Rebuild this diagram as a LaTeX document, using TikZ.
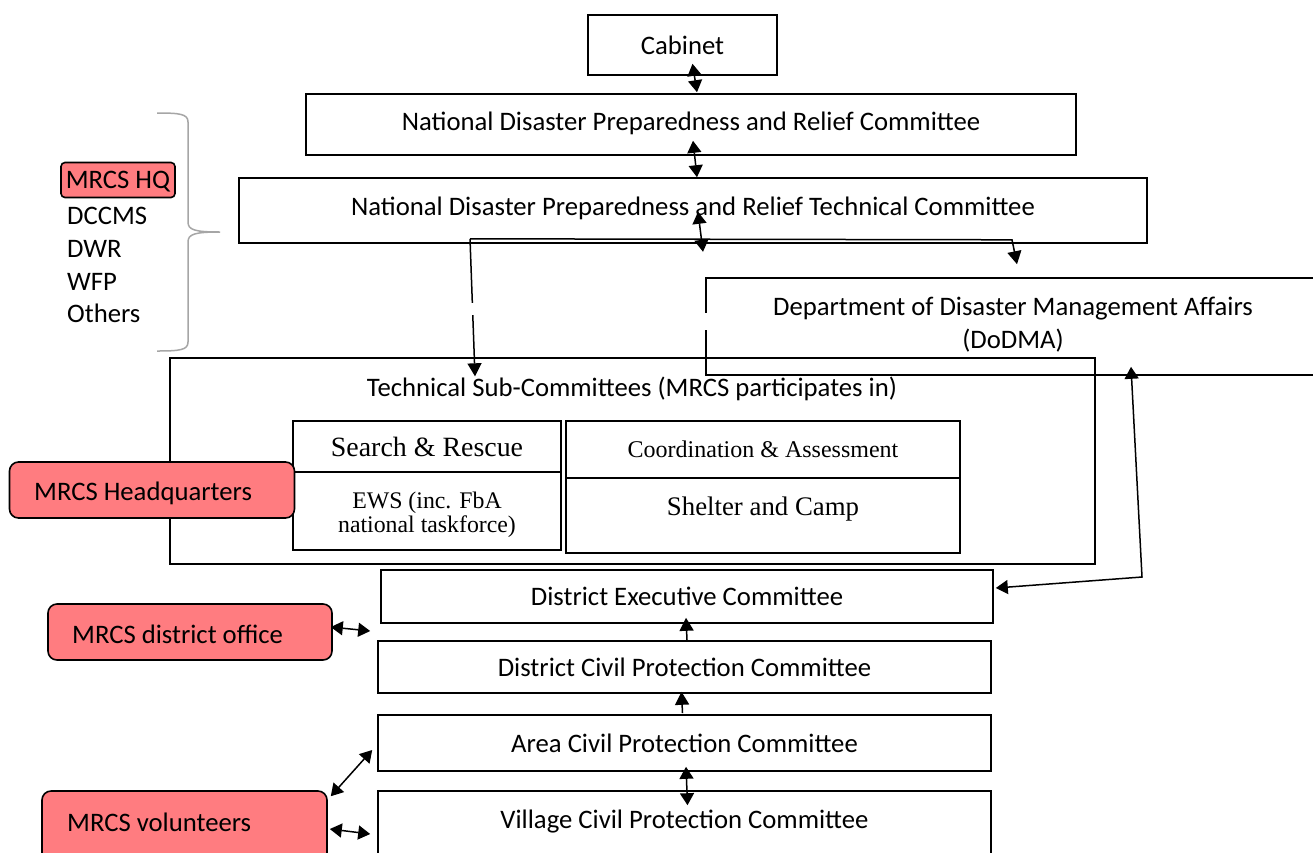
\documentclass[tikz,border=0pt]{standalone}
\usepackage{fontspec}
\setmainfont{Carlito}
\newfontfamily\tnr{Liberation Serif}
\usetikzlibrary{arrows.meta}
\definecolor{salmon}{HTML}{FF7C80}
\definecolor{bracegray}{HTML}{A6A6A6}
\begin{document}
\begin{tikzpicture}[x=1pt,y=-1pt,
  font=\fontsize{26.7}{33}\selectfont,
  box/.style={draw, line width=1.6pt, inner sep=0pt, text depth=0pt},
  subbox/.style={draw, line width=1.8pt, inner sep=0pt, font=\tnr},
  mrcs/.style={draw, line width=1.6pt, fill=salmon, rounded corners=9pt, inner sep=0pt},
  plain/.style={inner sep=0pt, text depth=0pt},
  dbl/.style={line width=1.5pt, {Triangle[length=12pt,width=14pt]}-{Triangle[length=12pt,width=14pt]}},
  sgl/.style={line width=1.5pt, -{Triangle[length=13pt,width=14pt]}}
]
\clip (0,0) rectangle (1313,852);
\fill[white] (0,0) rectangle (1313,852);

% top chain
\node[box, minimum width=189pt, minimum height=60pt] (cab) at (682.5,45) {Cabinet};
\node[box, minimum width=770pt, minimum height=61pt] (ndprc) at (691,124.5) {};
\node[plain] (ndprct) at (691,121) {National Disaster Preparedness and Relief Committee};
\node[box, minimum width=908pt, minimum height=65pt] (ndprtc) at (693,210.5) {};
\node[plain] (ndprtct) at (693,206) {National Disaster Preparedness and Relief Technical Committee};

% DoDMA
\node[box, minimum width=614pt, minimum height=97pt] (dodma) at (1013,326.5) {};
\node[plain, align=center] (dodmat) at (1013,323) {Department of Disaster Management Affairs\\(DoDMA)};

% technical sub-committees
\node[draw, line width=1.4pt, minimum width=925pt, minimum height=206pt, inner sep=0pt] (tech) at (632.5,461) {};
\node[plain] (techt) at (632,387) {Technical Sub-Committees (MRCS participates in)};
\node[subbox, minimum width=268pt, minimum height=51pt, font=\tnr\fontsize{27.9}{31}\selectfont] (sr) at (427,446.5) {Search \& Rescue};
\node[subbox, minimum width=268pt, minimum height=78pt] (ews) at (427,511) {};
\node[plain, align=center, font=\tnr\fontsize{23.8}{24.5}\selectfont] (ewst) at (427,512) {EWS (inc. FbA\\national taskforce)};
\node[subbox, minimum width=394pt, minimum height=57pt, font=\tnr\fontsize{24}{27}\selectfont] (ca) at (763,449.5) {Coordination \& Assessment};
\node[subbox, minimum width=394pt, minimum height=75pt] (sc) at (763,515.5) {};
\node[plain, font=\tnr\fontsize{26.8}{30}\selectfont] (sct) at (763,506) {Shelter and Camp};

% district chain
\node[box, minimum width=612pt, minimum height=53pt] (dec) at (687,596.5) {District Executive Committee};
\node[box, minimum width=613pt, minimum height=52pt] (dcpc) at (684.5,667) {District Civil Protection Committee};
\node[box, minimum width=613pt, minimum height=56pt] (acpc) at (684.5,743) {Area Civil Protection Committee};
\node[box, minimum width=613pt, minimum height=74pt] (vcpc) at (684.5,828) {};
\node[plain] (vcpct) at (684.5,819) {Village Civil Protection Committee};

% MRCS boxes
\node[mrcs, minimum width=285pt, minimum height=56pt] (hq) at (152,490) {};
\node[plain, anchor=west] (hqt) at (34,491) {MRCS Headquarters};
\node[mrcs, minimum width=284pt, minimum height=56pt] (dist) at (190,632) {};
\node[plain, anchor=west] (distt) at (72,634) {MRCS district office};
\node[mrcs, minimum width=285pt, minimum height=74pt] (vol) at (184.5,828) {};
\node[plain, anchor=west] (volt) at (67,822) {MRCS volunteers};

% left list and brace
\node[draw, line width=1.6pt, fill=salmon, rounded corners=4pt, inner sep=0pt, minimum height=35pt, minimum width=114pt, text depth=0pt] (hqs) at (118,180) {MRCS HQ};
\node[plain, anchor=west] (l1) at (67,216) {DCCMS};
\node[plain, anchor=west] (l2) at (67,249) {DWR};
\node[plain, anchor=west] (l3) at (67,282) {WFP};
\node[plain, anchor=west] (l4) at (67,313) {Others};
\draw[bracegray, line width=1.5pt] (157,113) .. controls (180,113) and (188,114) .. (188,122) -- (188,222) .. controls (188,230) and (195,232) .. (220,232) .. controls (195,232) and (188,234) .. (188,242) -- (188,342) .. controls (188,350) and (180,351) .. (157,351);

% connectors
\draw[dbl] ([xshift=10pt,yshift=12pt]cab.south) -- ([xshift=6pt,yshift=1pt]ndprc.north);
\draw[dbl] ([xshift=2pt,yshift=15pt]ndprc.south) -- ([xshift=4pt]ndprtc.north);
\draw[dbl] ([xshift=5pt,yshift=32pt]ndprtc.south) -- ([xshift=10pt,yshift=-8pt]ndprtc.south);
\coordinate (split) at ([xshift=-223pt,yshift=5pt]ndprtc.south);
\coordinate (splitr) at ([xshift=319pt,yshift=4pt]ndprtc.south);
\draw[sgl] (split) -- ([xshift=-157.5pt,yshift=-19pt]tech.north);
\draw[sgl] (split) -- (splitr) -- ([xshift=4pt,yshift=13pt]dodma.north);
\coordinate (bend) at (1142,577);
\draw[dbl] ([xshift=118pt,yshift=9pt]dodma.south) -- (bend) -- ([xshift=2pt,yshift=8.5pt]dec.east);
\draw[dbl] ([xshift=-2pt,yshift=5pt]dist.east) -- ([xshift=-10pt,yshift=-34.5pt]dec.west);
\draw[sgl] ([xshift=2.5pt]dcpc.north) -- ([xshift=-1pt,yshift=6pt]dec.south);
\draw[sgl] ([xshift=-2pt,yshift=1pt]acpc.north) -- ([xshift=-3pt,yshift=2pt]dcpc.south);
\draw[dbl] ([xshift=1.5pt,yshift=5pt]acpc.south) -- ([xshift=3pt,yshift=-15pt]vcpc.north);
\draw[dbl] ([xshift=3pt,yshift=-6pt]vol.north east) -- ([xshift=-5pt,yshift=-7pt]acpc.west);
\draw[dbl] ([xshift=2pt,yshift=-1pt]vol.east) -- ([xshift=-7pt,yshift=-6pt]vcpc.west);

% small white gaps seen in the original
\fill[white] (467,303) rectangle (479,315);
\fill[white] (703,313) rectangle (710,330);
\end{tikzpicture}
\end{document}
